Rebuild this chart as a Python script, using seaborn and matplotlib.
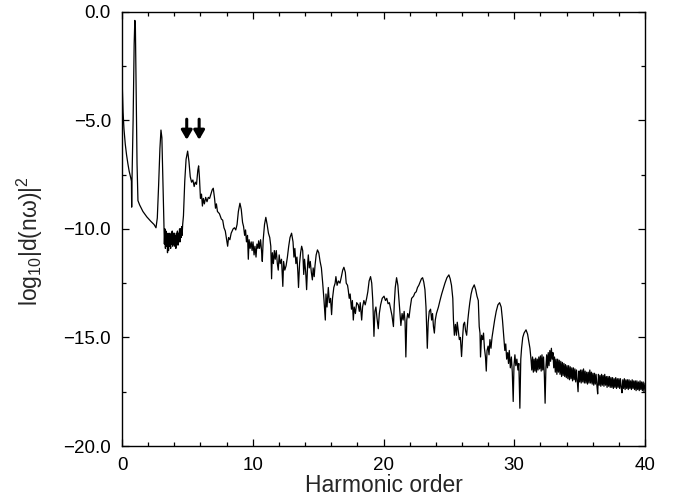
import matplotlib
matplotlib.use("Agg")
import matplotlib.pyplot as plt
from matplotlib.ticker import MultipleLocator, FuncFormatter
import seaborn as sns
import pandas as pd

# ---- data (several segments) ----
# segment 1: fundamental and 3rd harmonic (order 0 - 3.2)
order_low = [
    0.00, 0.03, 0.08, 0.15, 0.25, 0.35, 0.45, 0.55, 0.65, 0.72, 0.74, 0.76, 0.85, 0.93, 0.98,
    1.02, 1.08, 1.15, 1.22, 1.35, 1.6, 1.9, 2.2, 2.45, 2.6, 2.7, 2.8, 2.9, 2.98, 3.05,
    3.12,
]
power_low = [
    -3.1, -3.6, -4.6, -5.4, -6.1, -6.6, -7.0, -7.35, -7.6, -7.8, -9.0, -7.9, -5.0, -1.5, -0.4,
    -0.5, -3.5, -7.0, -8.7, -8.9, -9.2, -9.45, -9.65, -9.8, -9.95, -9.5, -8.0, -6.3, -5.45, -5.8,
    -7.5,
]

# segment 2: noisy floor between the 3rd and 5th harmonics
order_floor = [
    3.20, 3.24, 3.28, 3.32, 3.36, 3.40, 3.44, 3.48, 3.52, 3.56, 3.60, 3.64, 3.68, 3.72, 3.76,
    3.80, 3.84, 3.88, 3.92, 3.96, 4.00, 4.04, 4.08, 4.12, 4.16, 4.20, 4.24, 4.28, 4.32, 4.36,
    4.40, 4.44, 4.48, 4.52, 4.56, 4.60, 4.64,
]
power_floor = [
    -9.6, -10.7, -10.0, -10.9, -10.1, -10.8, -10.2, -11.1, -10.3, -11.0, -10.2, -10.8, -10.3, -10.9, -10.2,
    -10.7, -10.1, -10.8, -10.2, -10.7, -10.2, -10.8, -10.3, -10.9, -10.2, -10.7, -10.1, -10.75, -10.2, -10.6,
    -10.0, -10.6, -10.0, -10.4, -9.9, -10.3, -9.8,
]

# segment 3: plateau region, harmonics 5 - 31
order_mid = [
    4.7, 4.8, 4.9, 5.02, 5.12, 5.22, 5.32, 5.42, 5.52, 5.6,
    5.7, 5.8, 5.86, 5.92, 6.0, 6.08, 6.15, 6.22, 6.3, 6.4, 6.5, 6.6, 6.7, 6.8, 6.9,
    6.98, 7.08, 7.15, 7.22, 7.3, 7.45, 7.6, 7.7, 7.8, 7.9, 8.0, 8.08, 8.15, 8.25, 8.35,
    8.5, 8.6, 8.7, 8.8, 8.9, 9.02, 9.12, 9.22, 9.3, 9.38, 9.45, 9.52, 9.6, 9.66, 9.72,
    9.8, 9.88, 9.95, 10.02, 10.1, 10.17, 10.25, 10.32, 10.4, 10.45, 10.52, 10.6, 10.67, 10.73, 10.8,
    10.9, 11.0, 11.1, 11.2, 11.3, 11.38, 11.44, 11.5, 11.58, 11.65, 11.72, 11.8, 11.88, 11.95, 12.02,
    12.1, 12.2, 12.3, 12.36, 12.45, 12.55, 12.65, 12.75, 12.85, 12.97, 13.08, 13.15, 13.22, 13.3, 13.38,
    13.45, 13.5, 13.58, 13.66, 13.74, 13.82, 13.9, 13.96, 14.05, 14.12, 14.2, 14.25, 14.32, 14.4, 14.48,
    14.56, 14.62, 14.7, 14.76, 14.85, 14.95, 15.05, 15.15, 15.25, 15.35, 15.45, 15.55, 15.6, 15.68, 15.78,
    15.86, 15.95, 16.03, 16.1, 16.2, 16.3, 16.36, 16.45, 16.55, 16.67, 16.78, 16.88, 16.97, 17.08, 17.15,
    17.25, 17.3, 17.38, 17.45, 17.55, 17.62, 17.69, 17.76, 17.85, 17.95, 18.07, 18.15, 18.22, 18.33, 18.4,
    18.5, 18.6, 18.71, 18.8, 18.9, 19.01, 19.1, 19.18, 19.27, 19.34, 19.42, 19.5, 19.6, 19.68, 19.78,
    19.9, 20.04, 20.15, 20.25, 20.35, 20.45, 20.55, 20.65, 20.76, 20.82, 20.9, 21.0, 21.1, 21.2, 21.28,
    21.33, 21.42, 21.5, 21.58, 21.65, 21.71, 21.78, 21.85, 21.95, 22.05, 22.15, 22.3, 22.4, 22.5, 22.6,
    22.7, 22.8, 22.9, 22.99, 23.08, 23.17, 23.25, 23.35, 23.42, 23.5, 23.6, 23.68, 23.75, 23.82, 23.89,
    23.96, 24.05, 24.2, 24.32, 24.45, 24.55, 24.7, 24.85, 25.0, 25.1, 25.2, 25.3, 25.35, 25.42, 25.5,
    25.58, 25.64, 25.72, 25.8, 25.88, 25.97, 26.05, 26.12, 26.2, 26.28, 26.36, 26.45, 26.52, 26.6, 26.7,
    26.8, 26.94, 27.05, 27.15, 27.25, 27.32, 27.38, 27.42, 27.5, 27.58, 27.65, 27.72, 27.8, 27.86, 27.92,
    28.0, 28.07, 28.14, 28.22, 28.3, 28.4, 28.5, 28.62, 28.75, 28.88, 29.0, 29.1, 29.2, 29.28, 29.35,
    29.42, 29.5, 29.56, 29.62, 29.7, 29.78, 29.85, 29.92, 29.98, 30.05, 30.12, 30.2, 30.28, 30.35, 30.43,
    30.5, 30.56, 30.65, 30.75, 30.9, 31.02, 31.12, 31.2,
]
power_mid = [
    -9.4, -7.8, -6.8, -6.42, -6.9, -7.6, -7.85, -7.75, -8.05, -7.85,
    -7.95, -7.3, -7.1, -7.6, -8.6, -8.4, -8.95, -8.6, -8.85, -8.55, -8.75, -8.55, -8.6, -8.4, -8.2,
    -8.13, -8.6, -9.05, -8.85, -9.2, -9.3, -9.55, -9.6, -9.95, -10.1, -10.5, -10.8, -10.4, -10.5, -10.2,
    -10.0, -9.95, -10.05, -9.8, -9.2, -8.82, -9.1, -9.7, -9.9, -10.3, -10.05, -10.6, -10.3, -11.4, -10.5,
    -10.9, -10.6, -11.0, -10.6, -11.2, -10.8, -11.3, -10.7, -10.9, -10.55, -10.9, -10.5, -11.0, -11.5, -10.5,
    -9.8, -9.47, -9.8, -10.2, -10.4, -10.8, -12.3, -11.1, -11.6, -11.0, -11.4, -11.0, -11.6, -11.9, -11.2,
    -11.6, -11.4, -12.65, -11.5, -11.9, -11.7, -11.3, -10.8, -10.4, -10.2, -10.6, -11.3, -10.9, -11.6, -11.3,
    -12.0, -12.7, -11.6, -11.1, -10.8, -11.0, -12.1, -11.4, -12.0, -12.8, -11.6, -11.2, -11.8, -11.5, -12.0,
    -12.35, -11.8, -12.2, -11.7, -11.2, -10.97, -11.1, -11.5, -11.8, -12.5, -13.3, -14.2, -13.0, -13.6, -12.7,
    -13.4, -13.2, -13.95, -13.2, -12.7, -12.5, -12.2, -12.6, -12.4, -12.5, -12.2, -11.9, -11.77, -12.0, -12.5,
    -12.6, -12.8, -13.2, -13.0, -13.7, -13.3, -14.2, -13.6, -13.9, -13.4, -13.5, -13.8, -13.4, -14.2, -13.6,
    -13.3, -13.5, -13.2, -12.9, -12.4, -12.2, -12.5, -13.3, -14.95, -13.8, -13.6, -14.1, -14.6, -13.9, -13.5,
    -13.2, -13.1, -13.3, -13.2, -13.45, -13.4, -13.7, -14.0, -14.5, -13.5, -12.7, -12.25, -12.6, -13.4, -14.0,
    -14.45, -13.9, -14.2, -13.8, -14.3, -15.9, -14.2, -13.9, -14.1, -13.6, -13.2, -13.1, -12.95, -12.9, -12.7,
    -12.6, -12.45, -12.3, -12.25, -12.45, -12.8, -13.6, -15.5, -14.3, -13.8, -13.7, -14.2, -13.9, -14.5, -14.8,
    -14.2, -13.9, -13.6, -13.3, -13.0, -12.8, -12.5, -12.25, -12.12, -12.3, -12.6, -13.2, -14.2, -14.9, -14.4,
    -14.9, -14.3, -14.7, -15.1, -15.0, -15.88, -15.0, -14.4, -14.3, -14.7, -14.9, -14.2, -13.8, -13.4, -13.0,
    -12.75, -12.58, -12.8, -13.1, -13.3, -14.5, -14.8, -15.9, -14.9, -15.1, -14.8, -15.5, -15.9, -16.55, -15.6,
    -15.4, -15.8, -15.1, -15.5, -15.0, -14.6, -14.2, -13.8, -13.5, -13.4, -13.6, -14.2, -15.0, -15.6, -15.3,
    -16.0, -15.7, -16.2, -15.6, -16.4, -15.9, -16.6, -17.95, -16.3, -15.8, -16.3, -16.0, -16.5, -16.2, -18.26,
    -16.0, -15.5, -15.0, -14.8, -14.65, -14.85, -15.2, -15.5,
]

# segment 4: high-order noise tail (order 31.3 - 40)
order_tail = [
    31.28, 31.34, 31.40, 31.46, 31.52, 31.58, 31.64, 31.70, 31.76, 31.82, 31.88, 31.94, 32.00, 32.06, 32.12,
    32.18, 32.24, 32.30, 32.36, 32.42, 32.48, 32.54, 32.60, 32.66, 32.72, 32.78, 32.84, 32.90, 32.96, 33.02,
    33.08, 33.14, 33.20, 33.26, 33.32, 33.38, 33.44, 33.50, 33.56, 33.62, 33.68, 33.74, 33.80, 33.86, 33.92,
    33.98, 34.04, 34.10, 34.16, 34.22, 34.28, 34.34, 34.40, 34.46, 34.52, 34.58, 34.64, 34.70, 34.76, 34.82,
    34.88, 34.94, 35.00, 35.06, 35.12, 35.18, 35.24, 35.30, 35.36, 35.42, 35.48, 35.54, 35.60, 35.66, 35.72,
    35.78, 35.84, 35.90, 35.96, 36.02, 36.08, 36.14, 36.20, 36.26, 36.32, 36.38, 36.44, 36.50, 36.56, 36.62,
    36.68, 36.74, 36.80, 36.86, 36.92, 36.98, 37.04, 37.10, 37.16, 37.22, 37.28, 37.34, 37.40, 37.46, 37.52,
    37.58, 37.64, 37.70, 37.76, 37.82, 37.88, 37.94, 38.00, 38.06, 38.12, 38.18, 38.24, 38.30, 38.36, 38.42,
    38.48, 38.54, 38.60, 38.66, 38.72, 38.78, 38.84, 38.90, 38.96, 39.02, 39.08, 39.14, 39.20, 39.26, 39.32,
    39.38, 39.44, 39.50, 39.56, 39.62, 39.68, 39.74, 39.80, 39.86, 39.92, 40.00,
]
power_tail = [
    -16.0, -16.5, -15.9, -16.6, -16.0, -16.55, -15.95, -16.6, -16.0, -16.5, -15.9, -16.45, -15.85, -16.55, -15.8,
    -16.5, -15.9, -16.7, -18.03, -16.4, -15.8, -16.4, -15.7, -16.3, -15.6, -16.1, -15.5, -16.0, -15.7, -16.4,
    -15.9, -16.6, -16.0, -16.7, -16.0, -16.6, -16.05, -16.7, -16.1, -16.8, -16.15, -16.75, -16.2, -16.8, -16.25,
    -16.85, -16.3, -16.9, -16.3, -16.95, -16.35, -16.9, -16.4, -17.0, -16.4, -16.95, -16.45, -17.05, -16.5, -17.0,
    -17.5, -16.55, -17.05, -16.5, -17.1, -16.5, -17.05, -16.45, -17.1, -16.55, -17.1, -16.6, -17.15, -16.6, -17.1,
    -16.5, -17.1, -16.6, -17.15, -16.65, -17.2, -16.65, -17.15, -16.7, -17.2, -17.6, -16.7, -17.2, -16.75, -17.25,
    -16.7, -17.2, -16.75, -17.25, -16.7, -17.2, -16.8, -17.3, -16.8, -17.25, -16.8, -17.3, -16.85, -17.3, -16.85,
    -17.35, -16.9, -17.3, -16.85, -17.35, -16.9, -17.3, -16.9, -17.35, -16.9, -17.3, -17.55, -16.95, -17.35, -16.9,
    -17.4, -16.95, -17.35, -16.95, -17.4, -16.95, -17.35, -17.0, -17.4, -16.95, -17.35, -17.0, -17.4, -17.0, -17.45,
    -17.0, -17.4, -17.05, -17.45, -17.0, -17.4, -17.05, -17.45, -17.05, -17.5, -17.1,
]

arrow_positions = [4.95, 5.9]
arrow_top, arrow_tip = -4.95, -5.9

x_label = "Harmonic order"
y_label = r"log$_{10}$|d(nω)|$^{2}$"

df = pd.DataFrame({
    "order": order_low + order_floor + order_mid + order_tail,
    "power": power_low + power_floor + power_mid + power_tail,
})

# ---- style ----
sns.set_style("ticks")
plt.rcParams["font.family"] = ["Liberation Sans", "DejaVu Sans"]
plt.rcParams["mathtext.fontset"] = "custom"
plt.rcParams["mathtext.rm"] = "Liberation Sans"
plt.rcParams["mathtext.it"] = "Liberation Sans"
plt.rcParams["mathtext.default"] = "regular"

fig = plt.figure(figsize=(6.77, 4.99), dpi=100)
ax = fig.add_axes([122 / 677, 1 - 446 / 499, (645 - 122) / 677, (446 - 11.7) / 499])

sns.lineplot(data=df, x="order", y="power", ax=ax, color="black", linewidth=0.9,
             sort=False, estimator=None)

for xp in arrow_positions:
    ax.annotate("", xy=(xp, arrow_tip), xytext=(xp, arrow_top),
                arrowprops=dict(arrowstyle="-|>,head_length=0.55,head_width=0.32",
                                color="black", lw=2.2, shrinkA=0, shrinkB=0))

ax.set_xlim(0, 40)
ax.set_ylim(-20, 0)
ax.xaxis.set_major_locator(MultipleLocator(10))
ax.xaxis.set_minor_locator(MultipleLocator(2))
ax.yaxis.set_major_locator(MultipleLocator(5))
ax.yaxis.set_minor_locator(MultipleLocator(2.5))
ax.yaxis.set_major_formatter(FuncFormatter(lambda v, p: f"{v:.1f}".replace("-", "\u2212")))

ax.tick_params(which="both", direction="in", top=True, right=True, width=0.9,
               labelsize=13.5, colors="black")
ax.tick_params(which="major", length=5, pad=8)
ax.tick_params(which="minor", length=3)
for s in ax.spines.values():
    s.set_linewidth(1.0)
    s.set_color("black")

ax.set_xlabel(x_label, fontsize=16.5, labelpad=0)
ax.set_ylabel(y_label, fontsize=16.5)
ax.yaxis.set_label_coords(-0.147, 0.472)

fig.savefig("out.png", dpi=100)
